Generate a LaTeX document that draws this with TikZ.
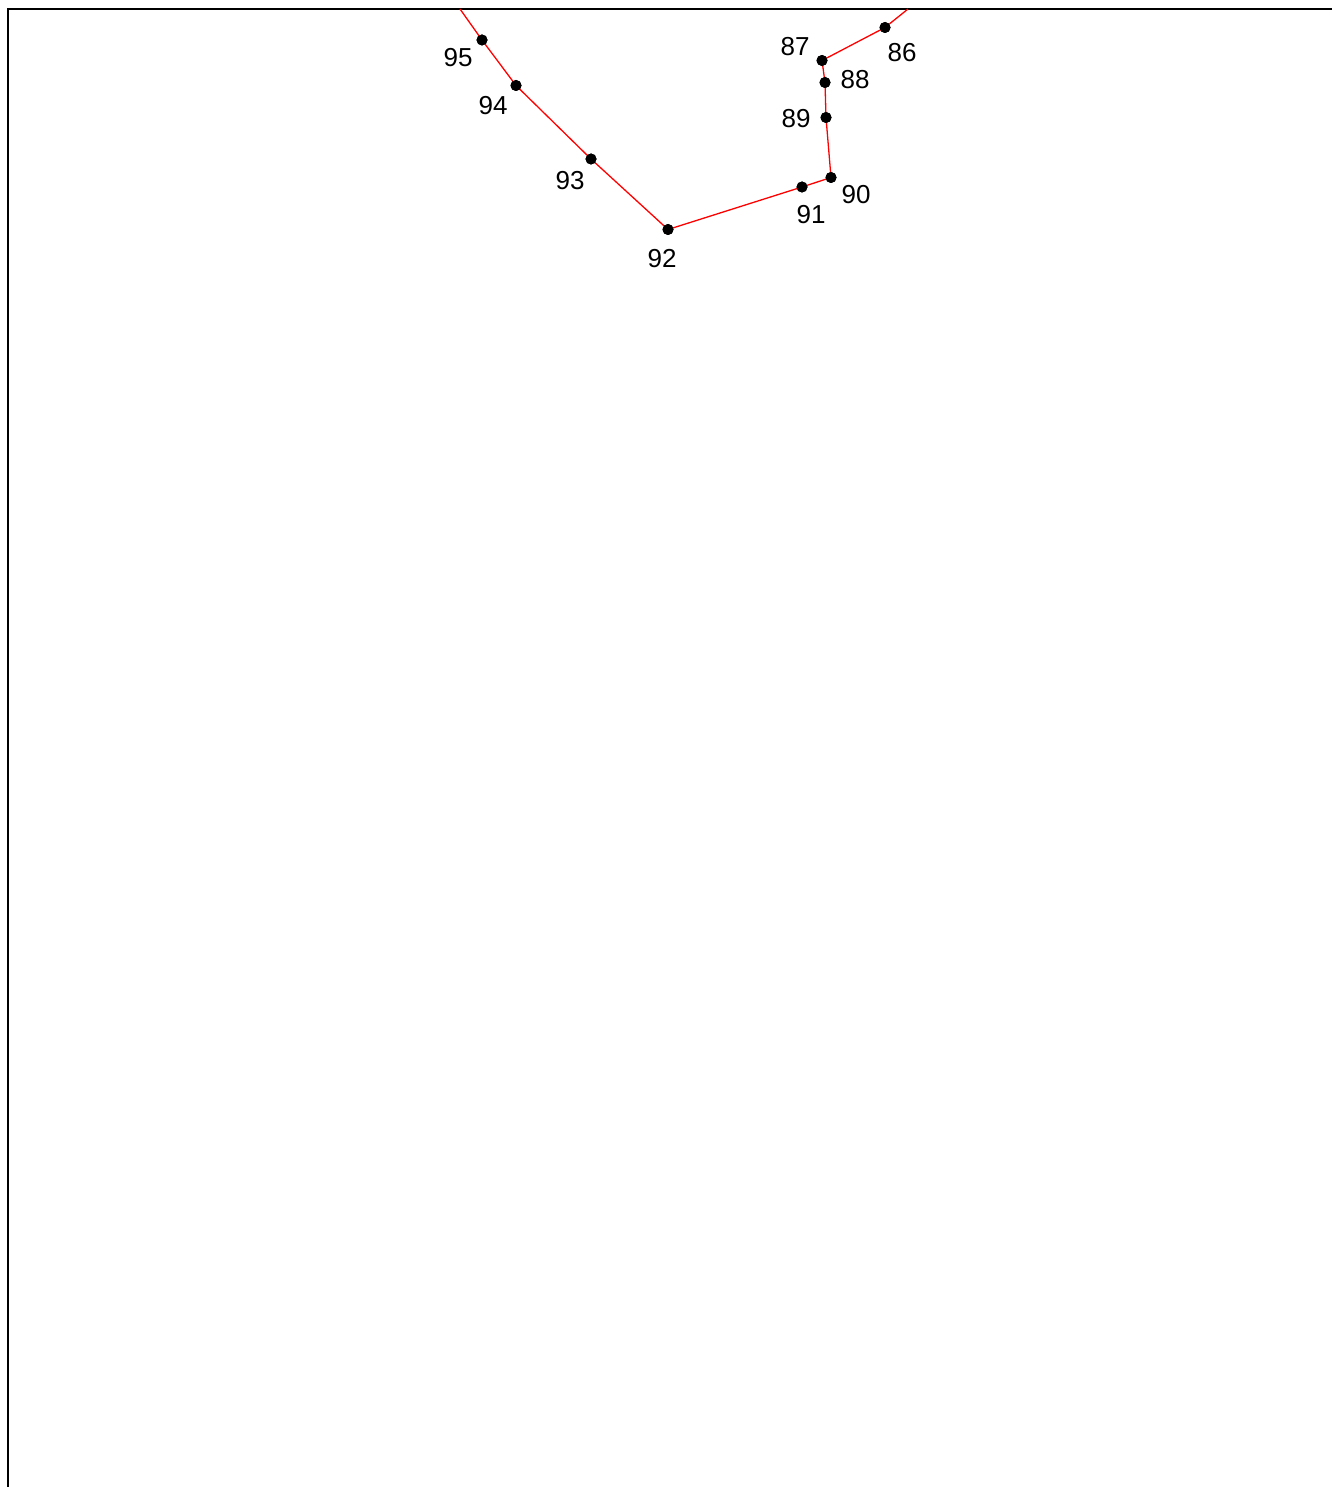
\documentclass[tikz,border=0pt]{standalone}
\usepackage{fontspec}
\setmainfont{Liberation Sans}
\begin{document}
\begin{tikzpicture}[x=1pt,y=-1pt,
  pt/.style={circle,fill=black,inner sep=0pt,minimum size=11pt},
  lbl/.style={inner sep=0pt,font=\fontsize{26}{30}\selectfont},
  route/.style={red,line width=1.3pt}]
\useasboundingbox (0,0) rectangle (1332,1487);
\draw[line width=2pt] (8,1487) -- (8,9) -- (1332,9);
\coordinate (e1) at (460,9);
\coordinate (e2) at (908,9);
\node[pt] (p86) at (885,27.5) {};
\node[pt] (p87) at (822,60.5) {};
\node[pt] (p88) at (825,82.5) {};
\node[pt] (p89) at (826,117.5) {};
\node[pt] (p90) at (831,177.5) {};
\node[pt] (p91) at (802,187) {};
\node[pt] (p92) at (668,229.5) {};
\node[pt] (p93) at (591,159) {};
\node[pt] (p94) at (516,85.5) {};
\node[pt] (p95) at (482,40) {};
\draw[route] (e2) -- (p86.center) -- (p87.center) -- (p88.center) -- (p89.center) -- (p90.center) -- (p91.center) -- (p92.center) -- (p93.center) -- (p94.center) -- (p95.center) -- (e1);
\foreach \n in {86,...,95} {\node[pt] at (p\n) {};}
\node[lbl] (l86) at (902,53) {86};
\node[lbl] (l87) at (795,47) {87};
\node[lbl] (l88) at (855,80) {88};
\node[lbl] (l89) at (796,119) {89};
\node[lbl] (l90) at (856,195) {90};
\node[lbl] (l91) at (811,215) {91};
\node[lbl] (l92) at (662,259) {92};
\node[lbl] (l93) at (570,181) {93};
\node[lbl] (l94) at (493,106) {94};
\node[lbl] (l95) at (458,58) {95};
\end{tikzpicture}
\end{document}
